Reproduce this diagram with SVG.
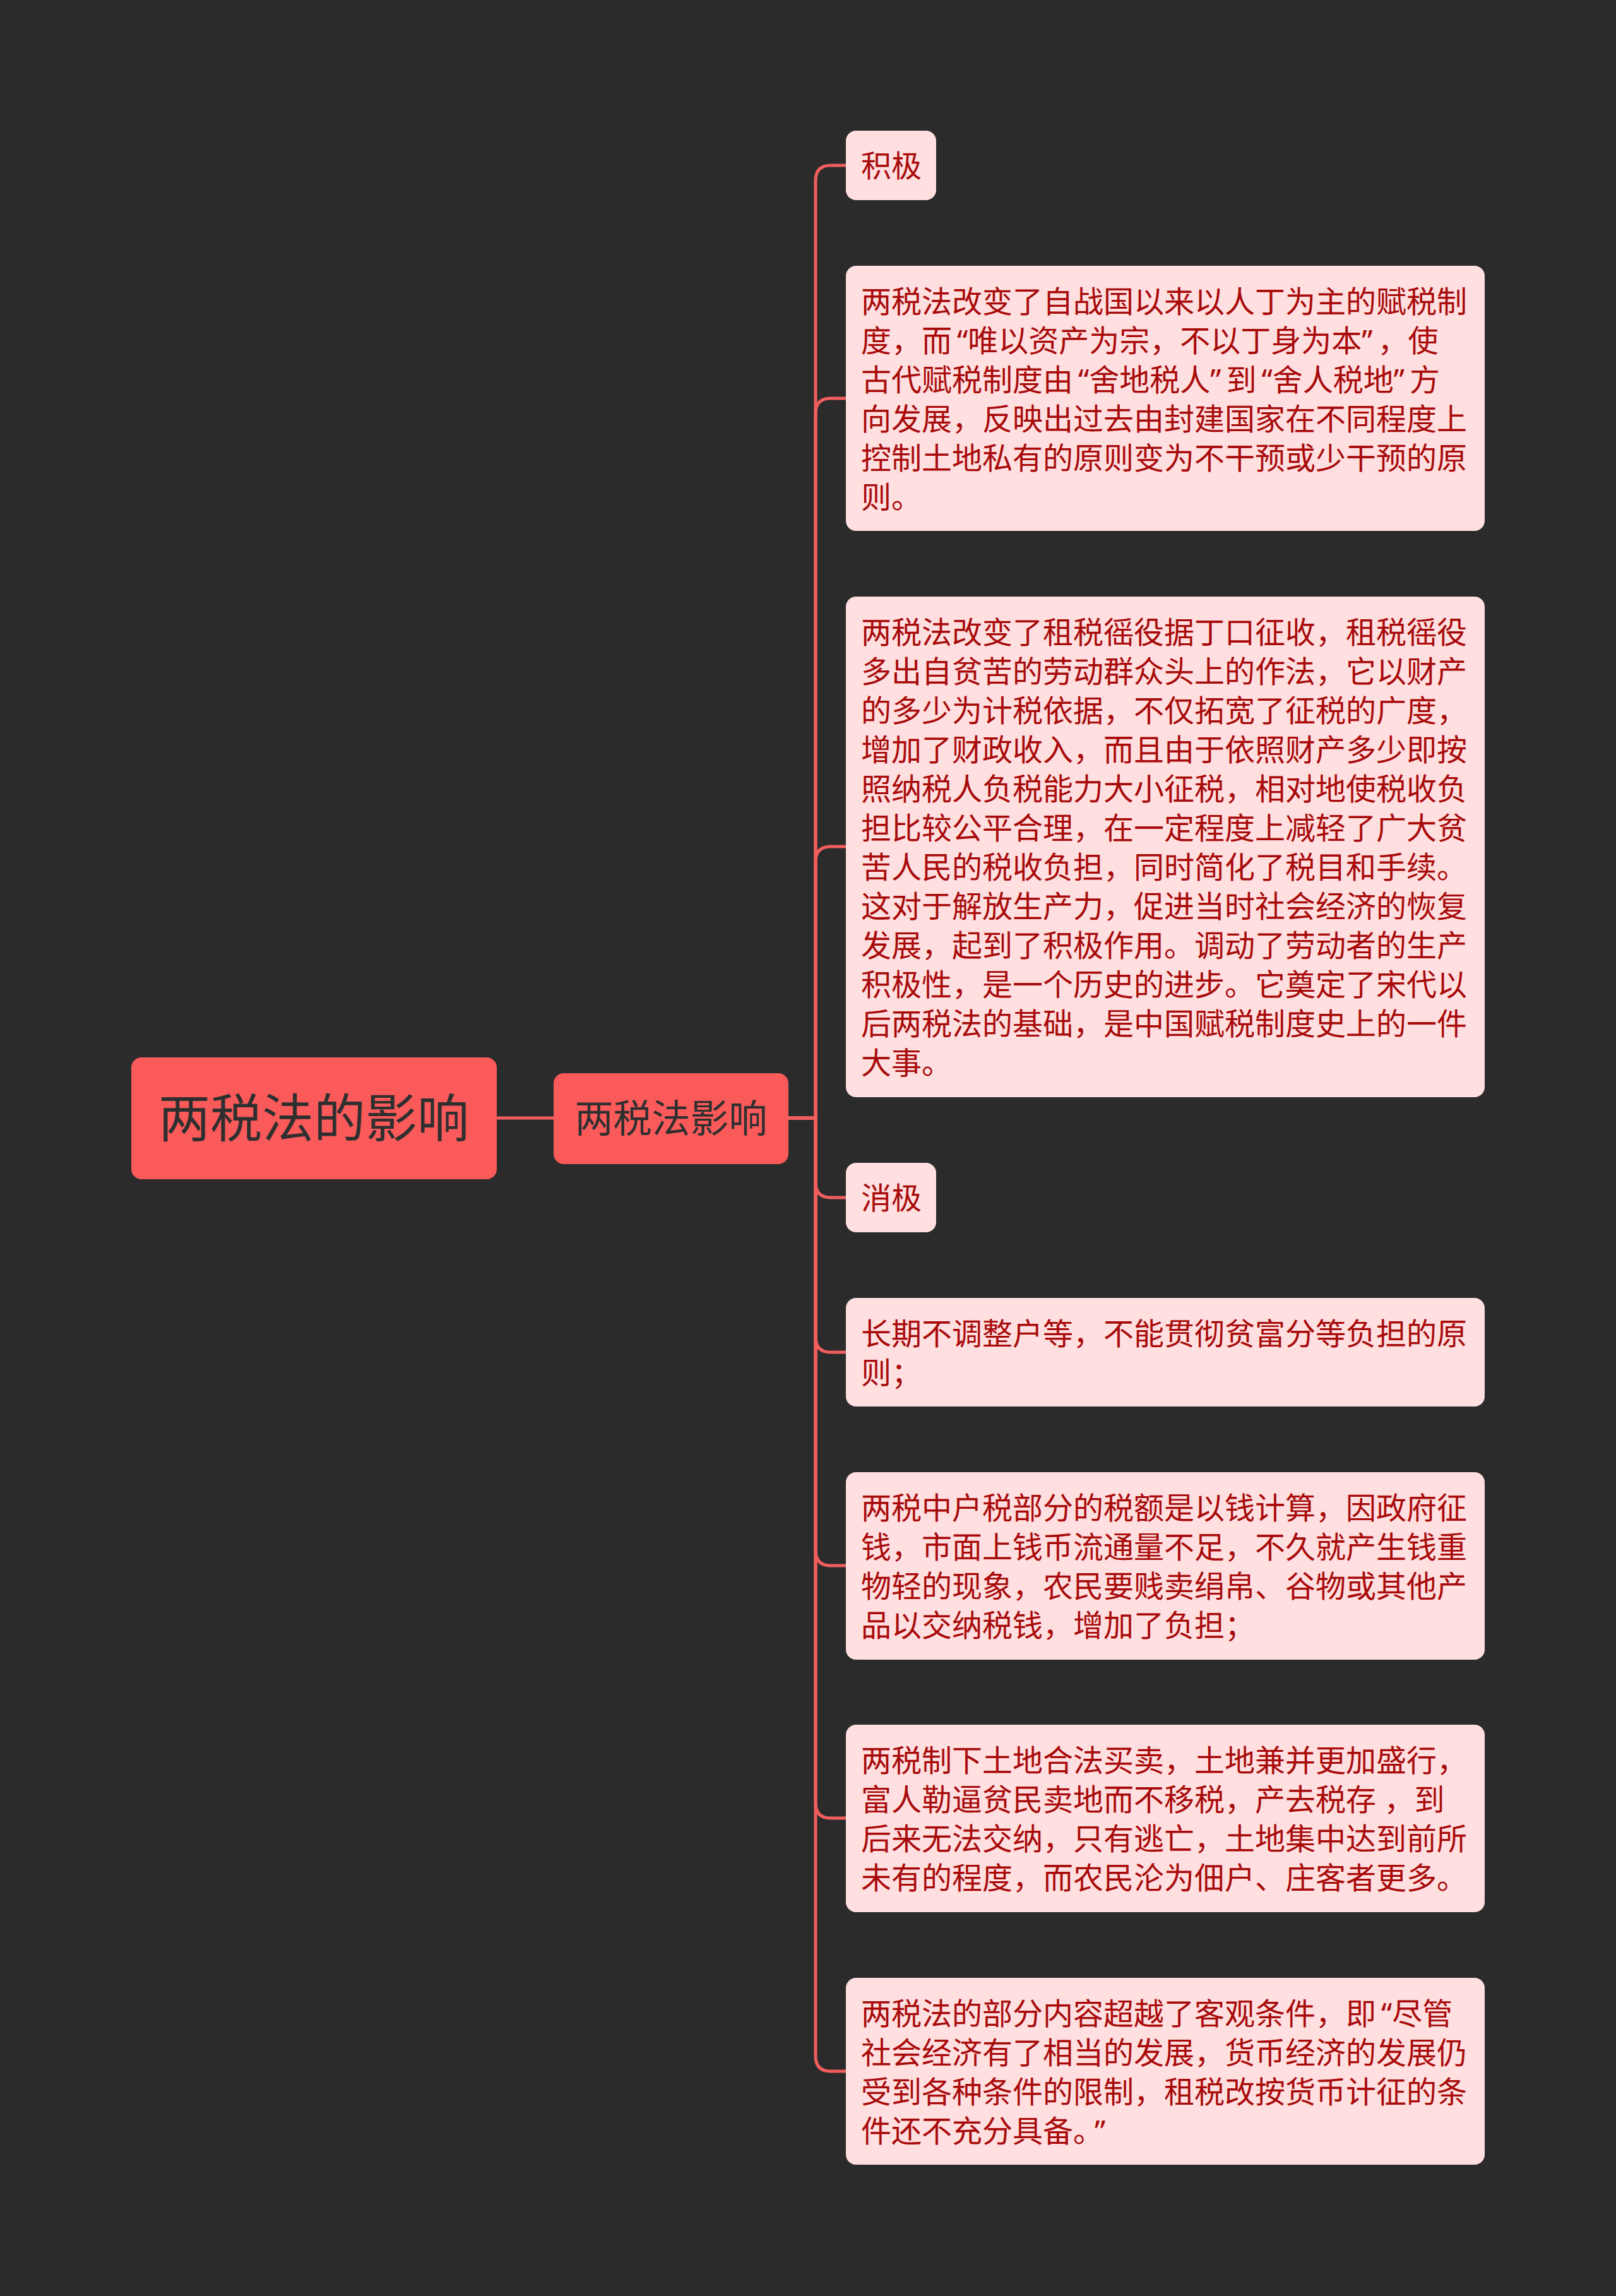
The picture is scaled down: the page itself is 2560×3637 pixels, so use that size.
<svg xmlns="http://www.w3.org/2000/svg" width="2560" height="3637" viewBox="0 0 2560 3637">
<style>
.bg{fill:#2b2b2b}
.main{fill:#fa5a5a}
.leaf{fill:#ffdfe0}
.mt{font-family:"Noto Sans CJK SC","Noto Sans",sans-serif;fill:#2f2f2f;text-anchor:middle}
.lt{font-family:"Noto Sans","Noto Sans CJK SC",sans-serif;font-size:48px;fill:#a80a0a;white-space:pre}
.c{fill:none;stroke:#f25e5e;stroke-width:5;stroke-linejoin:round}
</style>
<rect class="bg" x="0" y="0" width="2560" height="3637"/>
<g id="connectors">
<path class="c" d="M787 1771 H877"/>
<path class="c" d="M1249 1771 H1292 V286 Q1292 262 1316 262 H1340"/>
<path class="c" d="M1249 1771 H1292 V655 Q1292 631 1316 631 H1340"/>
<path class="c" d="M1249 1771 H1292 V1365 Q1292 1341 1316 1341 H1340"/>
<path class="c" d="M1249 1771 H1292 V1873 Q1292 1897 1316 1897 H1340"/>
<path class="c" d="M1249 1771 H1292 V2118 Q1292 2142 1316 2142 H1340"/>
<path class="c" d="M1249 1771 H1292 V2456 Q1292 2480 1316 2480 H1340"/>
<path class="c" d="M1249 1771 H1292 V2856 Q1292 2880 1316 2880 H1340"/>
<path class="c" d="M1249 1771 H1292 V3257 Q1292 3281 1316 3281 H1340"/>
</g>
<g id="root">
<rect class="main" x="208" y="1675" width="579" height="193" rx="16"/>
<text class="mt" x="497" y="1801" font-size="82">两税法的影响</text>
</g>
<g id="sub">
<rect class="main" x="877" y="1700" width="372" height="144" rx="16"/>
<text class="mt" x="1063" y="1794" font-size="61">两税法影响</text>
</g>
<g id="n1">
<rect class="leaf" x="1340" y="207" width="143" height="110" rx="16"/>
<text class="lt" x="1364" y="280">积极</text>
</g>
<g id="n2">
<rect class="leaf" x="1340" y="421" width="1012" height="420" rx="16"/>
<text class="lt" x="1364" y="495"><tspan x="1364">两税法改变了自战国以来以人丁为主的赋税制</tspan><tspan x="1364" dy="62">度，而<tspan dx="8">“</tspan>唯以资产为宗，不以丁身为本”<tspan dx="8">，使</tspan></tspan><tspan x="1364" dy="62">古代赋税制度由<tspan dx="8">“</tspan>舍地税人”<tspan dx="8">到</tspan><tspan dx="8">“</tspan>舍人税地”<tspan dx="8">方</tspan></tspan><tspan x="1364" dy="62">向发展，反映出过去由封建国家在不同程度上</tspan><tspan x="1364" dy="62">控制土地私有的原则变为不干预或少干预的原</tspan><tspan x="1364" dy="62">则。</tspan></text>
</g>
<g id="n3">
<rect class="leaf" x="1340" y="945" width="1012" height="793" rx="16"/>
<text class="lt" x="1364" y="1019"><tspan x="1364">两税法改变了租税徭役据丁口征收，租税徭役</tspan><tspan x="1364" dy="62">多出自贫苦的劳动群众头上的作法，它以财产</tspan><tspan x="1364" dy="62">的多少为计税依据，不仅拓宽了征税的广度，</tspan><tspan x="1364" dy="62">增加了财政收入，而且由于依照财产多少即按</tspan><tspan x="1364" dy="62">照纳税人负税能力大小征税，相对地使税收负</tspan><tspan x="1364" dy="62">担比较公平合理，在一定程度上减轻了广大贫</tspan><tspan x="1364" dy="62">苦人民的税收负担，同时简化了税目和手续。</tspan><tspan x="1364" dy="62">这对于解放生产力，促进当时社会经济的恢复</tspan><tspan x="1364" dy="62">发展，起到了积极作用。调动了劳动者的生产</tspan><tspan x="1364" dy="62">积极性，是一个历史的进步。它奠定了宋代以</tspan><tspan x="1364" dy="62">后两税法的基础，是中国赋税制度史上的一件</tspan><tspan x="1364" dy="62">大事。</tspan></text>
</g>
<g id="n4">
<rect class="leaf" x="1340" y="1842" width="143" height="110" rx="16"/>
<text class="lt" x="1364" y="1915">消极</text>
</g>
<g id="n5">
<rect class="leaf" x="1340" y="2056" width="1012" height="172" rx="16"/>
<text class="lt" x="1364" y="2130"><tspan x="1364">长期不调整户等，不能贯彻贫富分等负担的原</tspan><tspan x="1364" dy="62">则；</tspan></text>
</g>
<g id="n6">
<rect class="leaf" x="1340" y="2332" width="1012" height="297" rx="16"/>
<text class="lt" x="1364" y="2406"><tspan x="1364">两税中户税部分的税额是以钱计算，因政府征</tspan><tspan x="1364" dy="62">钱，市面上钱币流通量不足，不久就产生钱重</tspan><tspan x="1364" dy="62">物轻的现象，农民要贱卖绢帛、谷物或其他产</tspan><tspan x="1364" dy="62">品以交纳税钱，增加了负担；</tspan></text>
</g>
<g id="n7">
<rect class="leaf" x="1340" y="2732" width="1012" height="297" rx="16"/>
<text class="lt" x="1364" y="2806"><tspan x="1364">两税制下土地合法买卖，土地兼并更加盛行，</tspan><tspan x="1364" dy="62">富人勒逼贫民卖地而不移税，产去税存 ，到</tspan><tspan x="1364" dy="62">后来无法交纳，只有逃亡，土地集中达到前所</tspan><tspan x="1364" dy="62">未有的程度，而农民沦为佃户、庄客者更多。</tspan></text>
</g>
<g id="n8">
<rect class="leaf" x="1340" y="3133" width="1012" height="296" rx="16"/>
<text class="lt" x="1364" y="3207"><tspan x="1364">两税法的部分内容超越了客观条件，即<tspan dx="8">“</tspan>尽管</tspan><tspan x="1364" dy="62">社会经济有了相当的发展，货币经济的发展仍</tspan><tspan x="1364" dy="62">受到各种条件的限制，租税改按货币计征的条</tspan><tspan x="1364" dy="62">件还不充分具备。<tspan dx="10">”</tspan></tspan></text>
</g>
</svg>
